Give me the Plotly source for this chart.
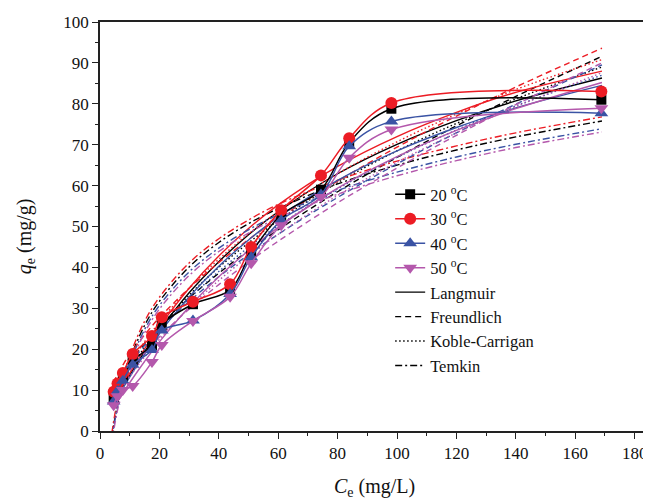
import plotly.graph_objects as go

# ---------------- data ----------------
temps = ["20 <sup>o</sup>C", "30 <sup>o</sup>C", "40 <sup>o</sup>C", "50 <sup>o</sup>C"]

ce_data = [4.6, 5.9, 7.7, 11.0, 17.5, 20.8, 31.3, 43.8, 50.9, 61.0, 74.4, 83.9, 98.1, 168.8]
qe_20 = [8.0, 10.6, 13.0, 17.2, 21.0, 26.0, 31.0, 34.5, 43.5, 52.8, 59.0, 70.5, 78.8, 81.0]
qe_30 = [9.6, 11.6, 14.2, 18.8, 23.2, 27.8, 31.6, 35.9, 45.0, 54.0, 62.5, 71.6, 80.2, 83.0]
qe_40 = [7.2, 9.8, 12.3, 16.2, 19.8, 24.6, 27.0, 33.5, 42.5, 51.5, 57.8, 69.6, 75.7, 77.7]
qe_50 = [6.3, 8.5, 10.0, 11.0, 16.9, 21.0, 26.9, 32.8, 41.0, 50.3, 57.2, 66.8, 73.7, 78.9]

ce_fit = [4.5, 6, 8, 10, 15, 20, 30, 40, 50, 60, 80, 100, 120, 140, 169]
lang_20 = [6.5, 8.5, 11.1, 13.6, 19.4, 24.6, 33.8, 41.4, 48.0, 53.6, 62.9, 70.1, 75.9, 80.7, 86.3]
lang_30 = [6.8, 8.9, 11.6, 14.1, 20.1, 25.5, 34.9, 42.8, 49.5, 55.3, 64.7, 72.0, 77.9, 82.8, 88.0]
lang_40 = [6.3, 8.3, 10.8, 13.2, 18.8, 23.9, 32.8, 40.3, 46.7, 52.3, 61.3, 68.5, 74.2, 79.0, 84.5]
lang_50 = [5.6, 7.3, 9.6, 11.8, 17.0, 21.8, 30.3, 37.7, 44.1, 49.8, 59.4, 67.1, 73.5, 78.8, 85.2]

freu_20 = [10.4, 12.4, 14.7, 16.8, 21.4, 25.5, 32.5, 38.6, 44.1, 49.2, 58.5, 66.9, 74.6, 81.8, 91.6]
freu_30 = [11.8, 14.0, 16.5, 18.7, 23.5, 27.7, 34.9, 41.2, 46.8, 51.9, 61.1, 69.4, 77.0, 84.1, 93.6]
freu_40 = [10.2, 12.1, 14.4, 16.4, 20.9, 24.9, 31.7, 37.7, 43.1, 48.1, 57.1, 65.3, 72.9, 79.9, 89.5]
freu_50 = [8.8, 10.6, 12.8, 14.7, 19.1, 23.0, 29.8, 35.8, 41.3, 46.4, 55.8, 64.3, 72.3, 79.8, 90.0]

kc_20 = [8.5, 10.5, 12.9, 15.2, 20.4, 25.1, 33.2, 40.0, 46.0, 51.4, 60.7, 68.5, 75.2, 81.2, 89.0]
kc_30 = [9.3, 11.4, 14.0, 16.4, 21.8, 26.6, 34.9, 42.0, 48.2, 53.6, 62.9, 70.7, 77.5, 83.5, 90.8]
kc_40 = [8.3, 10.2, 12.6, 14.8, 19.9, 24.4, 32.3, 39.0, 44.9, 50.2, 59.2, 66.9, 73.6, 79.5, 87.0]
kc_50 = [7.2, 9.0, 11.2, 13.3, 18.1, 22.4, 30.1, 36.8, 42.7, 48.1, 57.6, 65.7, 72.9, 79.3, 87.6]

ce_tem = [4.0, 4.5, 5, 6, 8, 10, 15, 20, 30, 40, 50, 60, 80, 100, 120, 140, 169]
tem_20 = [-1.5, 0.9, 3.1, 6.9, 12.8, 17.4, 25.8, 31.7, 40.1, 46.1, 50.7, 54.4, 60.4, 65.0, 68.7, 71.9, 75.8]
tem_30 = [-0.5, 1.9, 4.1, 7.9, 13.8, 18.4, 26.8, 32.7, 41.1, 47.0, 51.6, 55.4, 61.3, 66.0, 69.7, 72.9, 76.8]
tem_40 = [-1.9, 0.5, 2.6, 6.3, 12.1, 16.6, 24.8, 30.7, 38.9, 44.7, 49.2, 52.9, 58.8, 63.3, 67.0, 70.1, 73.9]
tem_50 = [-2.8, -0.4, 1.7, 5.4, 11.2, 15.7, 24.0, 29.8, 38.0, 43.9, 48.4, 52.1, 57.9, 62.4, 66.1, 69.3, 73.1]

x_ticks = [0, 20, 40, 60, 80, 100, 120, 140, 160, 180]
y_ticks = [0, 10, 20, 30, 40, 50, 60, 70, 80, 90, 100]

# ---------------- styles ----------------
colors = ["#000000", "#EC1C24", "#3A53A4", "#B458AC"]
symbols = ["square", "circle", "triangle-up", "triangle-down"]
msizes = [10, 12, 12, 12]
qe_all = [qe_20, qe_30, qe_40, qe_50]
lang_all = [lang_20, lang_30, lang_40, lang_50]
freu_all = [freu_20, freu_30, freu_40, freu_50]
kc_all = [kc_20, kc_30, kc_40, kc_50]
tem_all = [tem_20, tem_30, tem_40, tem_50]

DASH = "6px,4px"
DOT = "1.5px,2.5px"
DASHDOT = "7px,3px,2px,3px"
LW = 1.4

fig = go.Figure()

# fitted curves (no legend)
for i in range(4):
    c = colors[i]
    fig.add_trace(go.Scatter(x=ce_tem, y=tem_all[i], mode="lines", showlegend=False,
                             line=dict(color=c, width=LW, dash=DASHDOT, shape="spline")))
    fig.add_trace(go.Scatter(x=ce_fit, y=freu_all[i], mode="lines", showlegend=False,
                             line=dict(color=c, width=LW, dash=DASH, shape="spline")))
    fig.add_trace(go.Scatter(x=ce_fit, y=kc_all[i], mode="lines", showlegend=False,
                             line=dict(color=c, width=LW, dash=DOT, shape="spline")))
    fig.add_trace(go.Scatter(x=ce_fit, y=lang_all[i], mode="lines", showlegend=False,
                             line=dict(color=c, width=LW, shape="spline")))

# experimental data
for i in range(4):
    fig.add_trace(go.Scatter(x=ce_data, y=qe_all[i], mode="lines+markers", name=temps[i],
                             line=dict(color=colors[i], width=1.5, shape="spline"),
                             marker=dict(symbol=symbols[i], size=msizes[i], color=colors[i],
                                         line=dict(width=0))))

# legend-only entries for the models
for nm, dsh in [("Langmuir", "solid"), ("Freundlich", DASH),
                ("Koble-Carrigan", DOT), ("Temkin", DASHDOT)]:
    fig.add_trace(go.Scatter(x=[None], y=[None], mode="lines", name=nm,
                             line=dict(color="black", width=1.4, dash=dsh)))

FONT = "Liberation Serif"
axis_common = dict(showline=True, linecolor="#222222", linewidth=1.6, mirror=True,
                   ticks="outside", ticklen=6, tickwidth=1.4, tickcolor="#222222",
                   showgrid=False, zeroline=False, automargin=False,
                   tickfont=dict(family=FONT, size=17, color="#111111"))

fig.update_layout(
    width=643, height=492,
    margin=dict(l=92, r=3, t=13.5, b=69),
    paper_bgcolor="white", plot_bgcolor="white",
    font=dict(family=FONT, color="#111111"),
    xaxis=dict(range=[0, 184.5], tickvals=x_ticks,
               minor=dict(ticks="outside", ticklen=3, tickwidth=1.2, tickcolor="#222222", dtick=10, tick0=0),
               **axis_common),
    yaxis=dict(range=[0, 100], tickvals=y_ticks,
               minor=dict(ticks="outside", ticklen=3, tickwidth=1.2, tickcolor="#222222", dtick=5, tick0=0),
               **axis_common),
    legend=dict(x=0.5295, y=0.6207, xanchor="left", yanchor="top",
                bgcolor="rgba(0,0,0,0)", borderwidth=0,
                font=dict(family=FONT, size=16.5, color="#111111"),
                itemwidth=30, tracegroupgap=0),
    annotations=[
        dict(text="<i>C</i><sub>e</sub> (mg/L)", xref="paper", yref="paper",
             x=0.5, y=-0.137, xanchor="center", yanchor="middle", showarrow=False,
             font=dict(family=FONT, size=20, color="#111111")),
        dict(text="<i>q</i><sub>e</sub> (mg/g)", xref="paper", yref="paper",
             x=-0.137, y=0.476, xanchor="center", yanchor="middle", showarrow=False,
             textangle=-90, font=dict(family=FONT, size=20, color="#111111")),
    ],
)

fig.write_html("out.html")
